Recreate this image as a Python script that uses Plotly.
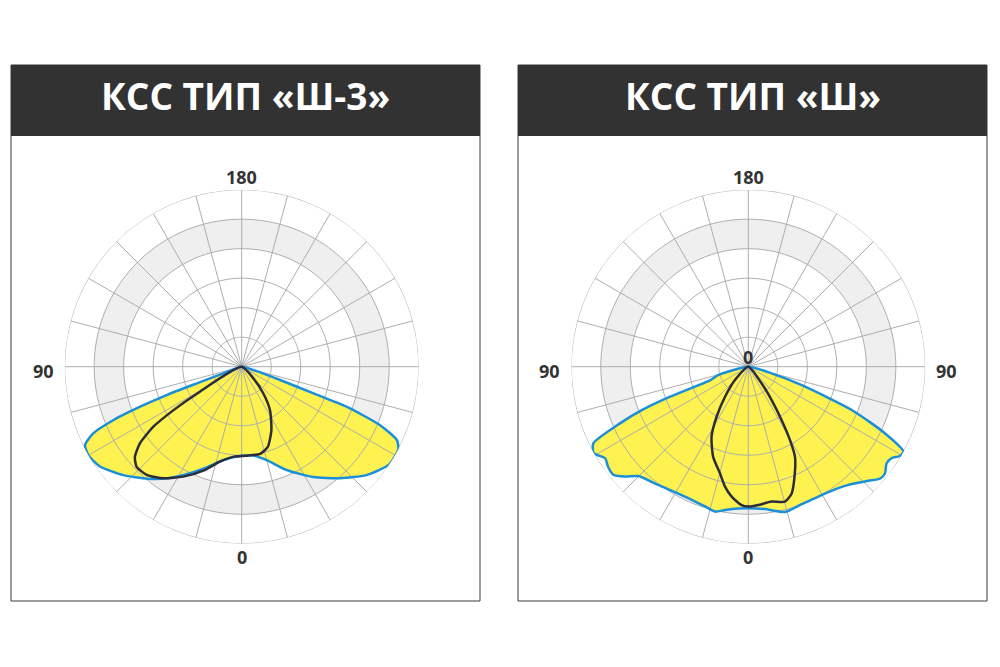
import numpy as np
import plotly.graph_objects as go

W, H = 1000, 667

# ---------------- data ----------------
TITLES = ["КСС ТИП «Ш-3»", "КСС ТИП «Ш»"]
RING_VALUES = [50, 100, 150, 200, 250, 300]
SPOKE_ANGLES = list(range(0, 360, 15))
BAND_INNER, BAND_OUTER = 200, 250

# Panel 1: КСС тип «Ш-3» (theta: 0 = down, positive = left side)
SH3_BLUE_THETA = [78, 70, 69.6, 69.3, 68.5, 67.4, 65.8, 63.4, 60, 55, 47.5, 40, 33, 26, 19, 11, 0,
                  -7.5, -15, -23.5, -33, -41.4, -49, -56.5, -62.2, -64.7, -67.1, -69.1, -69.6, -70.9, -74, -78]
SH3_BLUE_R = [0, 33, 81, 136, 185, 236, 276, 297, 300, 294, 272, 248, 225, 201, 180, 161, 151,
              152, 164, 191, 223, 252, 280, 300, 300, 291, 254, 191, 130, 69, 20, 0]
SH3_DARK_THETA = [60, 59, 57.5, 55.8, 53, 49.8, 46.4, 41.3, 35, 28, 20, 13, 5, -3, -12, -18, -25, -33, -39, -45, -46]
SH3_DARK_R = [0, 88, 137, 181, 216, 237, 246, 244, 231, 211, 187, 165, 153, 151, 151, 143, 119, 88, 58, 28, 0]

# Panel 2: КСС тип «Ш»
SH_BLUE_THETA = [76, 74.5, 70.5, 69, 67.8, 66.2, 63.7, 61, 59.8, 57.4, 54.5, 51.3, 48.3, 45.2, 37.3, 26, 17.2,
                 12.9, 9.2, 4, 0, -6.7, -14.2, -21.2, -28.3, -36.5, -41.4, -46.5, -49.7, -52, -55, -57.4,
                 -59.5, -61.3, -64, -67.3, -71, -74, -76]
SH_BLUE_R = [0, 53, 68, 142, 195, 237, 293, 300, 297, 288, 292, 293, 280, 263, 252, 245, 248,
             252, 246, 241, 240, 243, 254, 250, 250, 256, 265, 281, 293, 294, 286, 288,
             298, 300, 258, 190, 96, 41, 0]
SH_DARK_THETA = [46, 45, 37.8, 32.4, 27.7, 21.3, 14.9, 11, 7.3, 2.8, 0, -4.1, -9.8, -15.2, -18.9, -23.6,
                 -27.4, -29.6, -32, -35, -38.5, -40]
SH_DARK_R = [0, 32, 64, 100, 134, 164, 187, 207, 222, 235, 237, 235, 232, 237, 227, 197,
             172, 143, 106, 69, 36, 0]

PANELS = [
    dict(title=TITLES[0], blue=(SH3_BLUE_THETA, SH3_BLUE_R), dark=(SH3_DARK_THETA, SH3_DARK_R),
         labels=[("180", "top"), ("0", "bottom"), ("90", "left")]),
    dict(title=TITLES[1], blue=(SH_BLUE_THETA, SH_BLUE_R), dark=(SH_DARK_THETA, SH_DARK_R),
         labels=[("180", "top"), ("0", "bottom"), ("90", "left"), ("90", "right"), ("0", "center")]),
]

# ---------------- layout geometry (px) ----------------
BOXES = [(11, 65, 480, 601), (518, 65, 987, 601)]
HEADER_BOTTOM = 136
CENTERS = [(241.7, 366.7), (748.3, 366.7)]
RADIUS = 177

YELLOW = "#fdf24f"
BLUE = "#1b8fd8"
DARK = "#2d2c3a"
GRID = "#adadad"
BANDC = "#efefef"
TXT = "#333333"


def px(x):
    return x / W


def py(y):
    return 1 - y / H


fig = go.Figure()
circ = np.linspace(0, 360, 181)

shapes, annotations = [], []
layout_polars = {}

for i, (panel, box, (cx, cy)) in enumerate(zip(PANELS, BOXES, CENTERS)):
    pname = "polar" if i == 0 else f"polar{i + 1}"
    sub = pname

    # gray band
    fig.add_trace(go.Scatterpolar(r=[BAND_OUTER] * len(circ), theta=circ, mode="lines", fill="toself",
                                  fillcolor=BANDC, line=dict(width=0), subplot=sub, hoverinfo="skip",
                                  showlegend=False))
    fig.add_trace(go.Scatterpolar(r=[BAND_INNER] * len(circ), theta=circ, mode="lines", fill="toself",
                                  fillcolor="white", line=dict(width=0), subplot=sub, hoverinfo="skip",
                                  showlegend=False))
    # yellow fill
    bt, br = panel["blue"]
    fig.add_trace(go.Scatterpolar(r=br, theta=bt, mode="lines", fill="toself", fillcolor=YELLOW,
                                  line=dict(width=0, shape="spline", smoothing=0.6), subplot=sub,
                                  hoverinfo="skip", showlegend=False))
    # grid rings
    rr, tt = [], []
    for rv in RING_VALUES:
        rr += [rv] * len(circ) + [None]
        tt += list(circ) + [None]
    fig.add_trace(go.Scatterpolar(r=rr, theta=tt, mode="lines", line=dict(color=GRID, width=1),
                                  subplot=sub, hoverinfo="skip", showlegend=False))
    # spokes
    rr, tt = [], []
    for a in SPOKE_ANGLES:
        rr += [0, RING_VALUES[-1], None]
        tt += [a, a, None]
    fig.add_trace(go.Scatterpolar(r=rr, theta=tt, mode="lines", line=dict(color=GRID, width=1),
                                  subplot=sub, hoverinfo="skip", showlegend=False))
    # blue outline
    fig.add_trace(go.Scatterpolar(r=br, theta=bt, mode="lines",
                                  line=dict(color=BLUE, width=2.5, shape="spline", smoothing=0.6),
                                  subplot=sub, hoverinfo="skip", showlegend=False))
    # dark curve
    dt, dr = panel["dark"]
    fig.add_trace(go.Scatterpolar(r=dr, theta=dt, mode="lines",
                                  line=dict(color=DARK, width=2.5, shape="spline", smoothing=0.6),
                                  subplot=sub, hoverinfo="skip", showlegend=False))

    layout_polars[pname] = dict(
        domain=dict(x=[px(cx - RADIUS), px(cx + RADIUS)], y=[py(cy + RADIUS), py(cy - RADIUS)]),
        bgcolor="rgba(0,0,0,0)",
        radialaxis=dict(range=[0, RING_VALUES[-1]], showgrid=False, showline=False, showticklabels=False,
                        ticks=""),
        angularaxis=dict(rotation=270, direction="clockwise", showgrid=False, showline=False,
                         showticklabels=False, ticks=""),
    )

    x0, y0, x1, y1 = box
    shapes.append(dict(type="rect", xref="paper", yref="paper", x0=px(x0), x1=px(x1), y0=py(y1), y1=py(y0),
                       line=dict(color="#3a3a3a", width=1), fillcolor="rgba(0,0,0,0)"))
    shapes.append(dict(type="rect", xref="paper", yref="paper", x0=px(x0), x1=px(x1), y0=py(HEADER_BOTTOM),
                       y1=py(y0), line=dict(width=0), fillcolor="#323232"))
    annotations.append(dict(text=f"<b>{panel['title']}</b>", xref="paper", yref="paper",
                            x=px((x0 + x1) / 2), y=py(95), xanchor="center", yanchor="middle",
                            showarrow=False, font=dict(family="Open Sans", size=37, color="white")))

    pos = {"top": (cx, 177), "bottom": (cx, 557), "left": (cx - 198.5, 371),
           "right": (cx + 198, 371), "center": (cx, 357)}
    for text, where in panel["labels"]:
        x, y = pos[where]
        annotations.append(dict(text=f"<b>{text}</b>", xref="paper", yref="paper", x=px(x), y=py(y),
                                xanchor="center", yanchor="middle", showarrow=False,
                                font=dict(family="Open Sans", size=18, color=TXT)))

fig.update_layout(width=W, height=H, margin=dict(l=0, r=0, t=0, b=0), paper_bgcolor="white",
                  plot_bgcolor="white", shapes=shapes, annotations=annotations, showlegend=False,
                  **layout_polars)

fig.write_html("out.html")
